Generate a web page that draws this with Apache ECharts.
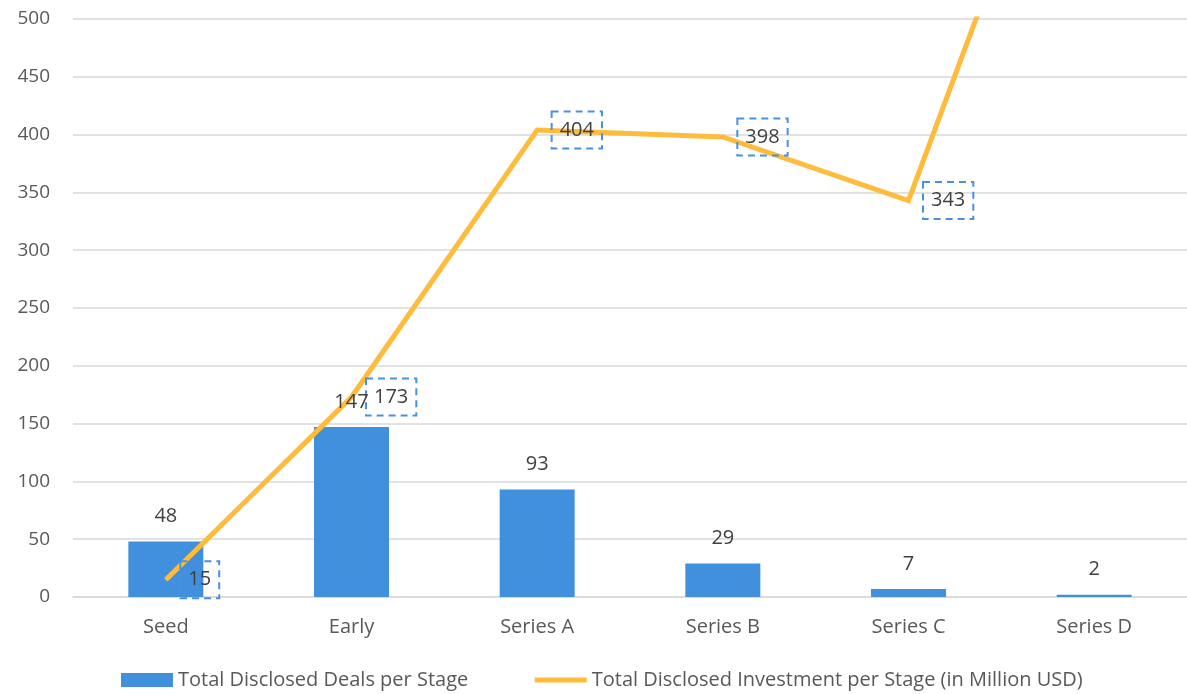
<!DOCTYPE html>
<html>
<head>
<meta charset="utf-8">
<script src="https://cdn.jsdelivr.net/npm/echarts@6/dist/echarts.min.js"></script>
<style>
  html, body { margin: 0; padding: 0; background: #fff; }
  #chart { width: 1187px; height: 694px; }
</style>
</head>
<body>
<div id="chart"></div>
<script>
const stages = ['Seed', 'Early', 'Series A', 'Series B', 'Series C', 'Series D']
const deals = [48, 147, 93, 29, 7, 2]
// last point runs off the top of the axis in the original
const investment = [15, 173, 404, 398, 343, 775]
const yTicks = { min: 0, max: 500, interval: 50 }

const font = '"Open Sans", "Noto Sans", sans-serif'
const dealsName = 'Total Disclosed Deals per Stage'
const investName = 'Total Disclosed Investment per Stage (in Million USD)'

const myChart = echarts.init(document.getElementById('chart'))

const options = {
  animation: false,
  textStyle: { fontFamily: font },
  grid: {
    top: 19,
    left: 73,
    right: -6,
    bottom: 97,
    containLabel: false
  },
  legend: {
    bottom: -1,
    left: 116,
    itemWidth: 52,
    itemHeight: 14,
    itemGap: 64,
    textStyle: { fontFamily: font, fontSize: 20, color: '#595959' },
    data: [
      { name: dealsName, icon: 'rect' },
      {
        name: investName,
        itemStyle: { opacity: 0 },
        lineStyle: { width: 5, color: '#FFBB3C' }
      }
    ]
  },
  xAxis: {
    type: 'category',
    data: stages,
    axisLine: { lineStyle: { color: '#d9d9d9', width: 1.5 } },
    axisTick: { show: false },
    axisLabel: { fontFamily: font, fontSize: 20, color: '#595959', margin: 20 }
  },
  yAxis: {
    type: 'value',
    min: yTicks.min,
    max: yTicks.max,
    interval: yTicks.interval,
    axisLine: { show: false },
    axisTick: { show: false },
    axisLabel: { fontFamily: font, fontSize: 19, color: '#595959', margin: 23 },
    splitLine: { lineStyle: { color: '#d9d9d9', width: 1.5 } }
  },
  series: [
    {
      name: dealsName,
      type: 'bar',
      barWidth: 75,
      z: 2,
      itemStyle: { color: '#4190DD' },
      data: deals
    },
    {
      name: investName,
      type: 'line',
      symbol: 'circle',
      symbolSize: 1,
      showSymbol: true,
      clip: true,
      z: 3,
      lineStyle: { color: '#FFBB3C', width: 5, cap: 'butt', join: 'miter' },
      itemStyle: { color: '#FFBB3C' },
      labelLayout: { hideOverlap: false },
      label: {
        show: true,
        position: 'right',
        distance: 14,
        fontFamily: font,
        fontSize: 20,
        color: '#404040',
        borderColor: '#4A90E2',
        borderWidth: 2,
        borderType: [7, 5],
        padding: [9, 8, 8, 8]
      },
      data: investment.map(v => (v > yTicks.max ? { value: v, label: { show: false } } : v))
    },
    {
      // transparent copy of the bars so the count labels sit above the line
      name: 'dealLabels',
      type: 'bar',
      barWidth: 75,
      barGap: '-100%',
      z: 4,
      silent: true,
      itemStyle: { color: 'rgba(0,0,0,0)' },
      label: {
        show: true,
        position: 'top',
        distance: 15,
        fontFamily: font,
        fontSize: 20,
        color: '#404040'
      },
      data: deals
    }
  ]
}

myChart.setOption(options)
</script>
</body>
</html>
